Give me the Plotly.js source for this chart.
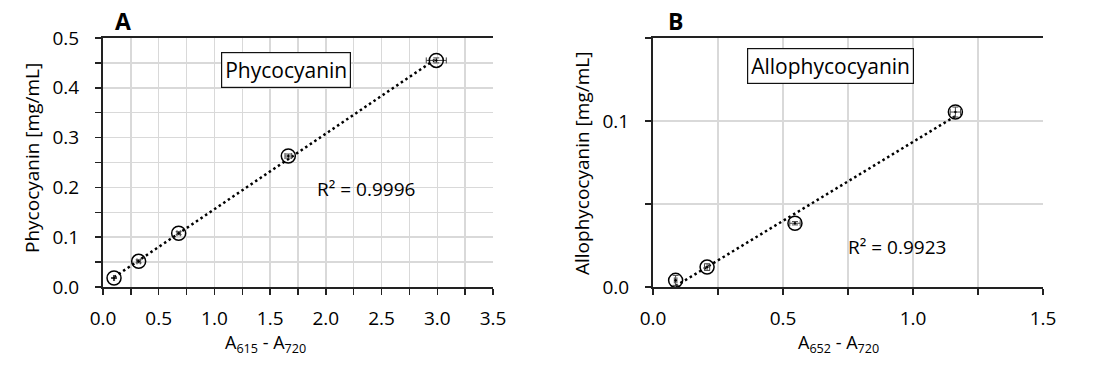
<!DOCTYPE html>
<html>
<head>
<meta charset="utf-8">
<script src="https://cdn.plot.ly/plotly-3.0.1.min.js"></script>
<style>html,body{margin:0;padding:0;background:#fff;}#chart{width:1100px;height:368px;}</style>
</head>
<body>
<div id="chart"></div>
<script>
// ---- Panel A: Phycocyanin ----
const xA = [0.099, 0.320, 0.679, 1.663, 2.991];
const yA = [0.018, 0.0515, 0.108, 0.263, 0.455];
const xErrA = [0.005, 0.015, 0.015, 0.03, 0.09];
const yErrA = [0.001, 0.003, 0.003, 0.004, 0.005];
const r2A = "R² = 0.9996";
const labelA = "Phycocyanin";
// ---- Panel B: Allophycocyanin ----
const xB = [0.087, 0.208, 0.546, 1.163];
const yB = [0.004, 0.012, 0.0384, 0.1054];
const xErrB = [0.005, 0.01, 0.02, 0.02];
const yErrB = [0.003, 0.002, 0.001, 0.003];
const r2B = "R² = 0.9923";
const labelB = "Allophycocyanin";

const FONT = "Open Sans, Lato, sans-serif";

function fit(x, y) {
  const n = x.length;
  const mx = x.reduce((a, b) => a + b, 0) / n;
  const my = y.reduce((a, b) => a + b, 0) / n;
  let sxy = 0, sxx = 0;
  for (let i = 0; i < n; i++) { sxy += (x[i] - mx) * (y[i] - my); sxx += (x[i] - mx) ** 2; }
  const m = sxy / sxx, b = my - m * mx;
  const x0 = Math.min(...x), x1 = Math.max(...x);
  return { x: [x0, x1], y: [m * x0 + b, m * x1 + b] };
}
const fA = fit(xA, yA), fB = fit(xB, yB);

function pts(x, y, ex, ey, xa, ya) {
  return {
    type: 'scatter', mode: 'markers', x: x, y: y, xaxis: xa, yaxis: ya,
    marker: { symbol: 'circle-open-dot', size: 14, color: '#000', line: { width: 1.5, color: '#000' } },
    error_x: { type: 'data', array: ex, visible: true, color: '#444', thickness: 1, width: 3 },
    error_y: { type: 'data', array: ey, visible: true, color: '#444', thickness: 1, width: 3 },
    showlegend: false, hoverinfo: 'skip'
  };
}
function trend(f, xa, ya) {
  return {
    type: 'scatter', mode: 'lines', x: f.x, y: f.y, xaxis: xa, yaxis: ya,
    line: { color: '#000', width: 2.5, dash: '2.5px,3px' }, showlegend: false, hoverinfo: 'skip'
  };
}

const data = [trend(fA, 'x', 'y'), pts(xA, yA, xErrA, yErrA, 'x', 'y'),
              trend(fB, 'x2', 'y2'), pts(xB, yB, xErrB, yErrB, 'x2', 'y2')];

const yDom = [(368 - 287) / 368, (368 - 38) / 368];
const gridC = '#d9d9d9';
function xax(dom, range, anchor) {
  return {
    domain: dom, range: range, anchor: anchor, dtick: 0.5, tick0: 0, tickformat: '.1f',
    showgrid: true, gridcolor: gridC, gridwidth: 1.5, zeroline: false,
    showline: true, linecolor: '#222', linewidth: 2, mirror: true,
    ticks: 'outside', ticklen: 6, tickwidth: 1.5, tickcolor: '#222', ticklabelstandoff: 7,
    minor: { dtick: 0.25, ticks: 'outside', ticklen: 6, tickwidth: 1.5, tickcolor: '#222', showgrid: true, gridcolor: gridC, gridwidth: 1.5 },
    tickfont: { family: FONT, size: 19, color: '#000' }, fixedrange: true
  };
}
function yax(dom, range, anchor) {
  return {
    domain: dom, range: range, anchor: anchor, dtick: 0.1, tick0: 0, tickformat: '.1f',
    showgrid: true, gridcolor: gridC, gridwidth: 1.5, zeroline: false,
    showline: true, linecolor: '#222', linewidth: 2,
    ticks: 'outside', ticklen: 6, tickwidth: 1.5, tickcolor: '#222', ticklabelstandoff: 12,
    minor: { dtick: 0.05, ticks: 'outside', ticklen: 6, tickwidth: 1.5, tickcolor: '#222', showgrid: true, gridcolor: gridC, gridwidth: 1.5 },
    tickfont: { family: FONT, size: 19, color: '#000' }, fixedrange: true
  };
}

function ann(text, x, y, size, extra) {
  return Object.assign({ xref: 'paper', yref: 'paper', x: x / 1100, y: 1 - y / 368, text: text,
    showarrow: false, xanchor: 'center', yanchor: 'middle', font: { family: FONT, size: size, color: '#000' } }, extra || {});
}

const layout = {
  width: 1100, height: 368, margin: { l: 0, r: 0, t: 0, b: 0 },
  paper_bgcolor: '#fff', plot_bgcolor: '#fff', showlegend: false,
  xaxis: xax([103 / 1100, 493 / 1100], [0, 3.5], 'y'),
  yaxis: yax(yDom, [0, 0.5], 'x'),
  xaxis2: xax([653 / 1100, 1043 / 1100], [0, 1.5], 'y2'),
  yaxis2: yax(yDom, [0, 0.15], 'x2'),
  annotations: [
    ann('<b>A</b>', 123, 21, 23),
    ann('<b>B</b>', 675, 21, 23),
    ann(labelA, 286, 70, 21, { bordercolor: '#111', borderwidth: 1.2, borderpad: 3, bgcolor: '#fff' }),
    ann(labelB, 830, 66, 21, { bordercolor: '#111', borderwidth: 1.2, borderpad: 3, bgcolor: '#fff' }),
    ann(r2A, 366, 189, 19),
    ann(r2B, 897, 247, 19),
    ann('A<sub>615</sub> - A<sub>720</sub>', 265, 343, 18),
    ann('A<sub>652</sub> - A<sub>720</sub>', 838, 343, 18),
    ann('Phycocyanin [mg/mL]', 32, 158, 19, { textangle: -90 }),
    ann('Allophycocyanin [mg/mL]', 582, 164, 19, { textangle: -90 })
  ]
};

Plotly.newPlot('chart', data, layout, { staticPlot: true, displayModeBar: false });
</script>
</body>
</html>
